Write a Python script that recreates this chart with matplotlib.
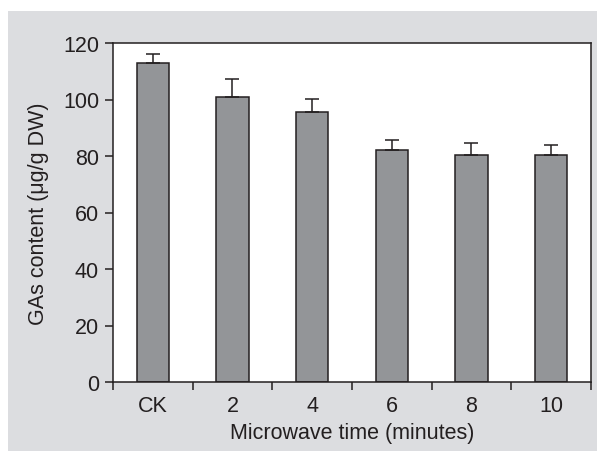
import matplotlib
matplotlib.use("Agg")
import matplotlib.pyplot as plt
import numpy as np

# data
categories = ['CK', '2', '4', '6', '8', '10']
gas_content = [112.8, 101.0, 95.7, 82.2, 80.5, 80.5]
gas_err = [3.4, 6.4, 4.6, 3.6, 4.1, 3.4]
y_ticks = [0, 20, 40, 60, 80, 100, 120]

DARK = '#231f20'
plt.rcParams['font.family'] = ['Liberation Sans', 'DejaVu Sans']
plt.rcParams['text.color'] = DARK
plt.rcParams['axes.labelcolor'] = DARK
plt.rcParams['xtick.color'] = DARK
plt.rcParams['ytick.color'] = DARK

fig = plt.figure(figsize=(5.97, 4.52), dpi=100, facecolor='white')
# grey panel behind the chart
fig.patches.append(plt.Rectangle((8 / 597, 0), 1, 1 - 12 / 452, transform=fig.transFigure,
                                 facecolor='#dcdde0', edgecolor='none', zorder=-10))
ax = fig.add_axes([113 / 597, 1 - 383 / 452, (591 - 113) / 597, (383 - 44) / 452])
ax.set_facecolor('white')

x = np.arange(len(categories))
ax.bar(x, gas_content, width=0.41, color='#939598', edgecolor=DARK, linewidth=1.1, zorder=2)
ax.errorbar(x, gas_content, yerr=[np.zeros(len(gas_err)), gas_err], fmt='none',
            ecolor=DARK, elinewidth=1.1, capsize=5, capthick=1.1, zorder=3)

ax.set_xlim(-0.5, len(categories) - 0.5)
ax.set_ylim(0, 120)
ax.set_yticks(y_ticks)
ax.set_xticks(np.arange(-0.5, len(categories), 1.0))
ax.set_xticklabels([])
ax.set_xticks(x, minor=True)
ax.set_xticklabels(categories, minor=True)
ax.tick_params(axis='x', which='minor', length=0, pad=9, labelsize=15.5)
ax.tick_params(axis='x', which='major', length=6, width=1.1, direction='out')
ax.tick_params(axis='y', length=6, width=1.1, direction='out', labelsize=15.5, pad=4)
for s in ax.spines.values():
    s.set_linewidth(1.1)
    s.set_color(DARK)

ax.set_xlabel('Microwave time (minutes)', fontsize=15.5, labelpad=5)
ax.set_ylabel('GAs content (μg/g DW)', fontsize=15.5, labelpad=10)

fig.savefig('out.png', dpi=100)
